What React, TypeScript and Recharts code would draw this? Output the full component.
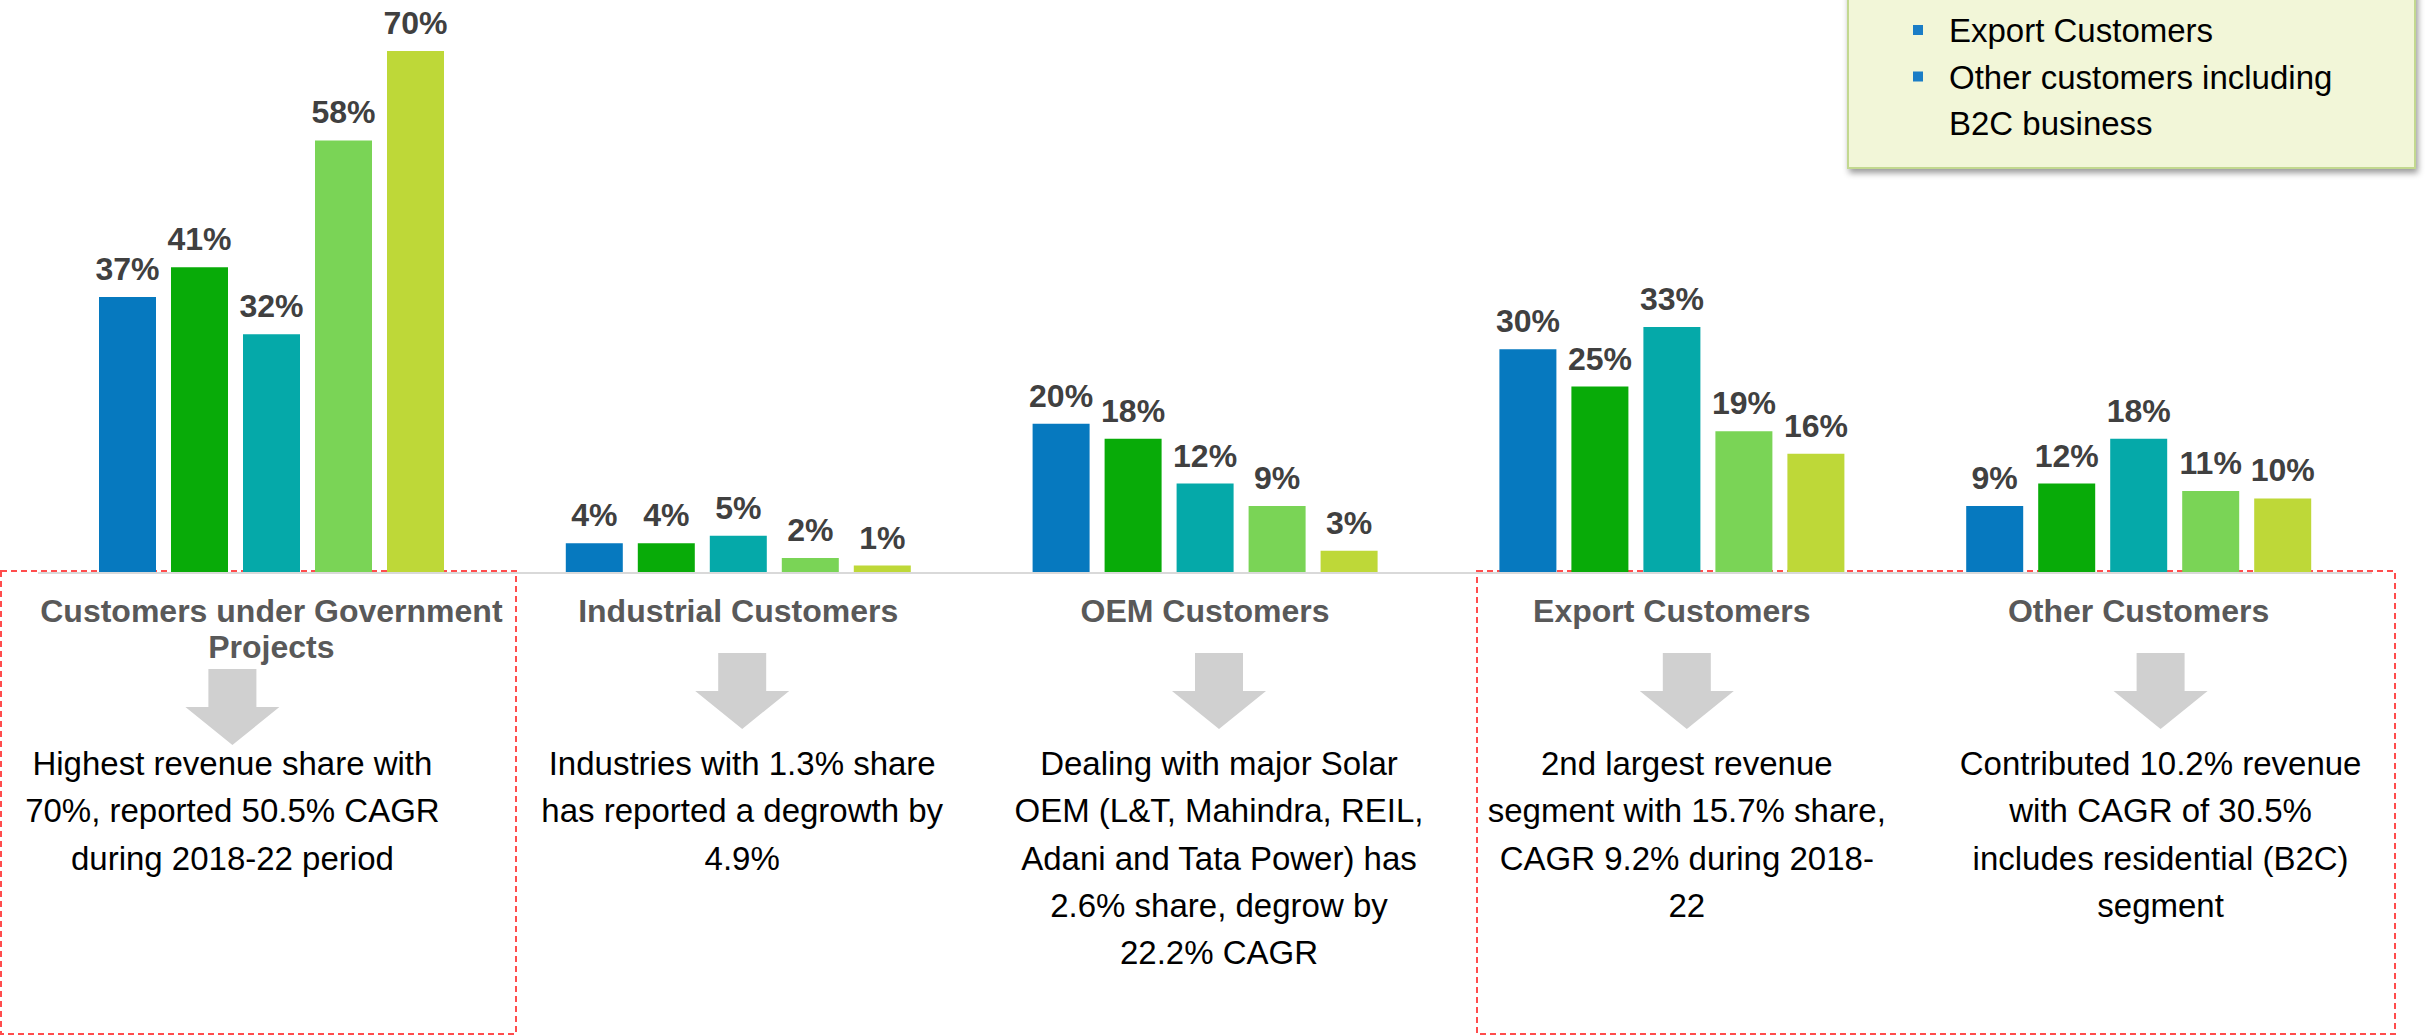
import React from "react";
import { BarChart, Bar, XAxis, YAxis, LabelList } from "recharts";

// revenue share (%) by customer segment, FY2018 → FY2022
const categories = [
  "Customers under Government Projects",
  "Industrial Customers",
  "OEM Customers",
  "Export Customers",
  "Other Customers",
];
const fy2018 = [37, 4, 20, 30, 9];
const fy2019 = [41, 4, 18, 25, 12];
const fy2020 = [32, 5, 12, 33, 18];
const fy2021 = [58, 2, 9, 19, 11];
const fy2022 = [70, 1, 3, 16, 10];

const notes = [
  ["Highest revenue share with", "70%, reported 50.5% CAGR", "during 2018-22 period"],
  ["Industries with 1.3% share", "has reported a degrowth by", "4.9%"],
  [
    "Dealing with major Solar",
    "OEM (L&T, Mahindra, REIL,",
    "Adani and Tata Power) has",
    "2.6% share, degrow by",
    "22.2% CAGR",
  ],
  ["2nd largest revenue", "segment with 15.7% share,", "CAGR 9.2% during 2018-", "22"],
  ["Contributed 10.2% revenue", "with CAGR of 30.5%", "includes residential (B2C)", "segment"],
];

const legendItems = [["Export Customers"], ["Other customers including", "B2C business"]];

const seriesKeys = ["fy2018", "fy2019", "fy2020", "fy2021", "fy2022"];
const seriesValues = [fy2018, fy2019, fy2020, fy2021, fy2022];
const colors = ["#0679BF", "#08AB08", "#05A9A9", "#7AD456", "#BED838"];

// arrow + note column is nudged off the category centre in the original slide
const noteShift = [-39, 4, 14, 15, 22];

const FONT = '"Liberation Sans", Arial, Helvetica, sans-serif';

const data = categories.map((name, i) => {
  const row: Record<string, string | number> = { name };
  seriesKeys.forEach((k, s) => (row[k] = seriesValues[s][i]));
  return row;
});

function wrap(text: string, max: number) {
  const lines: string[] = [];
  let cur = "";
  for (const w of text.split(" ")) {
    const next = cur ? cur + " " + w : w;
    if (next.length > max && cur) {
      lines.push(cur);
      cur = w;
    } else cur = next;
  }
  if (cur) lines.push(cur);
  return lines;
}

function CategoryTick(props: any) {
  const { x, y, payload } = props;
  const i = categories.indexOf(payload.value);
  const title = wrap(payload.value, 26);
  const cx = x + noteShift[i];
  const top = y + 80 + (title.length - 1) * 16;
  const pts = [
    [cx - 24, top],
    [cx + 24, top],
    [cx + 24, top + 38],
    [cx + 47, top + 38],
    [cx, top + 76],
    [cx - 47, top + 38],
    [cx - 24, top + 38],
  ]
    .map((p) => p.join(","))
    .join(" ");
  return (
    <g>
      <text textAnchor="middle" fontFamily={FONT} fontSize={32} fontWeight="bold" fill="#595959">
        {title.map((t, k) => (
          <tspan key={k} x={x} y={y + 49 + k * 36}>
            {t}
          </tspan>
        ))}
      </text>
      <polygon points={pts} fill="#D0D0D0" />
      <text textAnchor="middle" fontFamily={FONT} fontSize={33} fill="#000">
        {notes[i].map((t, k) => (
          <tspan key={k} x={cx} y={y + 202 + k * 47.3}>
            {t}
          </tspan>
        ))}
      </text>
    </g>
  );
}

export default function App() {
  let line = 0;
  return (
    <div
      style={{
        position: "absolute",
        left: 0,
        top: 0,
        width: 2425,
        height: 1035,
        background: "#fff",
        overflow: "hidden",
      }}
    >
      {/* dashed highlight boxes sit behind the bars */}
      <svg width={2425} height={1035} style={{ position: "absolute", left: 0, top: 0 }}>
        <rect x={1} y={571} width={515} height={463} fill="none" stroke="#FF4D4D" strokeWidth={2} strokeDasharray="6 4" />
        <rect x={1477} y={571} width={918} height={463} fill="none" stroke="#FF4D4D" strokeWidth={2} strokeDasharray="6 4" />
      </svg>

      <div style={{ position: "absolute", left: 0, top: 0 }}>
        <BarChart
          width={2425}
          height={1035}
          data={data}
          margin={{ top: 51, right: 53, left: 38, bottom: 0 }}
          barSize={57}
          barGap={15}
        >
          <YAxis hide domain={[0, 70]} />
          <XAxis
            dataKey="name"
            height={462}
            interval={0}
            tickLine={false}
            tickSize={0}
            tickMargin={0}
            axisLine={{ stroke: "#D9D9D9", strokeWidth: 2 }}
            tick={<CategoryTick />}
          />
          {seriesKeys.map((k, s) => (
            <Bar key={k} dataKey={k} fill={colors[s]} isAnimationActive={false}>
              <LabelList
                dataKey={k}
                position="top"
                offset={17}
                formatter={(v: any) => `${v}%`}
                style={{ fontSize: 32, fontWeight: "bold", fill: "#404040", fontFamily: FONT }}
              />
            </Bar>
          ))}
        </BarChart>
      </div>

      {/* legend call-out, top right, runs off the slide edge */}
      <svg width={2425} height={1035} style={{ position: "absolute", left: 0, top: 0, pointerEvents: "none" }}>
        <defs>
          <filter id="shadow" x="-10%" y="-10%" width="120%" height="130%">
            <feDropShadow dx={2} dy={4} stdDeviation={3} floodColor="#000" floodOpacity={0.4} />
          </filter>
        </defs>
        <rect x={1848} y={-10} width={567} height={178} fill="#F2F6D8" stroke="#C2D88F" strokeWidth={2} filter="url(#shadow)" />
        {legendItems.map((item, n) =>
          item.map((t, k) => {
            const by = 42 + line++ * 46.5;
            return (
              <g key={`${n}-${k}`}>
                {k === 0 && <rect x={1913} y={by - 17} width={10} height={10} fill="#1A7DC6" />}
                <text x={1949} y={by} fontFamily={FONT} fontSize={33} fill="#000">
                  {t}
                </text>
              </g>
            );
          })
        )}
      </svg>
    </div>
  );
}
